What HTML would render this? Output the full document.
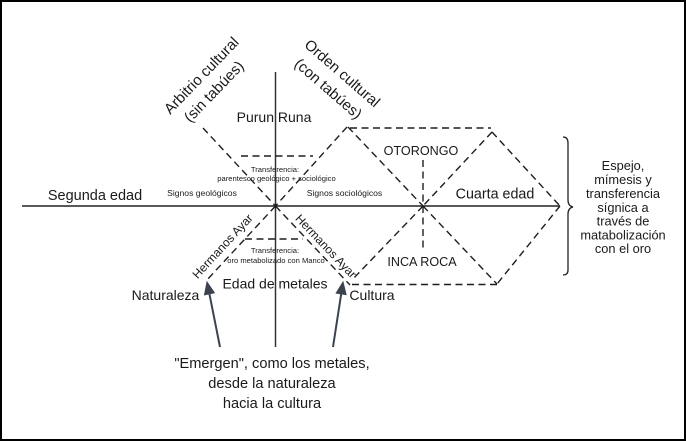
<!DOCTYPE html>
<html>
<head>
<meta charset="utf-8">
<style>
  html, body { margin: 0; padding: 0; background: #fff; }
  body { width: 686px; height: 441px; overflow: hidden; position: relative; }
  .frame { position: absolute; left: 0; top: 0; width: 682px; height: 437px; border: 2px solid #000; }
  svg { position: absolute; left: 0; top: 0; }
  text { font-family: "Liberation Sans", Arial, sans-serif; fill: #1a1a1a; }
</style>
</head>
<body>
<div class="frame"></div>
<svg width="686" height="441" viewBox="0 0 686 441" xmlns="http://www.w3.org/2000/svg">
  <!-- solid axes -->
  <line x1="22" y1="206" x2="560" y2="206" stroke="#222" stroke-width="1.5"/>
  <line x1="275.5" y1="72" x2="275.5" y2="347" stroke="#333" stroke-width="1.5"/>

  <!-- dashed lines -->
  <g stroke="#1e1e1e" stroke-width="1.4" stroke-dasharray="7 4.5" fill="none">
    <!-- left X -->
    <line x1="203" y1="128" x2="275.5" y2="206"/>
    <line x1="275.5" y1="206" x2="350" y2="285"/>
    <line x1="347" y1="127" x2="275.5" y2="206"/>
    <line x1="275.5" y1="206" x2="206" y2="281"/>
    <!-- small horizontals -->
    <line x1="241" y1="156" x2="313" y2="156"/>
    <line x1="245" y1="239" x2="303" y2="239"/>
    <!-- hexagon top/bottom -->
    <line x1="350" y1="128" x2="491" y2="128"/>
    <line x1="352" y1="284.5" x2="497" y2="284.5"/>
    <!-- right X -->
    <line x1="348" y1="127" x2="423" y2="206"/>
    <line x1="423" y1="206" x2="497" y2="284"/>
    <line x1="492" y1="132" x2="423" y2="206"/>
    <line x1="423" y1="206" x2="352" y2="280"/>
    <!-- right side -->
    <line x1="492" y1="132" x2="560" y2="206"/>
    <line x1="560" y1="206" x2="497" y2="284"/>
    <!-- vertical -->
    <line x1="423" y1="160" x2="423" y2="249"/>
  </g>

  <!-- brace -->
  <path d="M563,137 Q568,137 568,143 L568,200 Q568,206 573,207 Q568,208 568,214 L568,270 Q568,275 563,275" fill="none" stroke="#222" stroke-width="1.3"/>

  <!-- arrows -->
  <g stroke="#3c4350" stroke-width="2" fill="#3c4350">
    <line x1="220" y1="347" x2="209.4" y2="293.8"/>
    <polygon points="207,282 214.3,292.8 204.5,294.8" stroke-width="1"/>
    <line x1="333" y1="347" x2="341.2" y2="293.9"/>
    <polygon points="343,282 346.1,294.6 336.2,293.1" stroke-width="1"/>
  </g>

  <!-- labels -->
  <text x="95" y="200" font-size="14.5" text-anchor="middle">Segunda edad</text>
  <text x="202" y="196" font-size="8.6" text-anchor="middle">Signos geológicos</text>
  <text x="344.5" y="196" font-size="8.6" text-anchor="middle">Signos sociológicos</text>
  <text x="275" y="172" font-size="7.6" text-anchor="middle">Transferencia:</text>
  <text x="276.5" y="181" font-size="7.6" text-anchor="middle">parentesco geológico + sociológico</text>
  <text x="275" y="253" font-size="7.6" text-anchor="middle">Transferencia:</text>
  <text x="276" y="263" font-size="7.6" text-anchor="middle">oro metabolizado con Manco</text>
  <text x="274" y="122" font-size="14" text-anchor="middle">Purun Runa</text>
  <text x="421" y="155" font-size="12.6" text-anchor="middle">OTORONGO</text>
  <text x="422" y="266" font-size="12.6" text-anchor="middle">INCA ROCA</text>
  <text x="495" y="198.5" font-size="14.3" text-anchor="middle">Cuarta edad</text>
  <text x="275" y="288.5" font-size="14" text-anchor="middle">Edad de metales</text>
  <text x="165.5" y="300" font-size="14" text-anchor="middle">Naturaleza</text>
  <text x="372" y="300" font-size="14" text-anchor="middle">Cultura</text>

  <text x="272" y="368" font-size="14.6" text-anchor="middle">"Emergen", como los metales,</text>
  <text x="272" y="388" font-size="14.6" text-anchor="middle">desde la naturaleza</text>
  <text x="272" y="408" font-size="14.6" text-anchor="middle">hacia la cultura</text>

  <g font-size="12.8" text-anchor="middle">
    <text x="623" y="170">Espejo,</text>
    <text x="623" y="184">mímesis y</text>
    <text x="623" y="198">transferencia</text>
    <text x="623" y="212">sígnica a</text>
    <text x="623" y="225.5">través de</text>
    <text x="623" y="239.5">matabolización</text>
    <text x="623" y="253">con el oro</text>
  </g>

  <!-- rotated labels -->
  <text font-size="15" text-anchor="middle" transform="translate(205,79) rotate(-46)">Arbitrio cultural</text>
  <text font-size="15" text-anchor="middle" transform="translate(217.5,95) rotate(-46)">(sin tabúes)</text>
  <text font-size="15" text-anchor="middle" transform="translate(339,77) rotate(41)">Orden cultural</text>
  <text font-size="15" text-anchor="middle" transform="translate(325,92.5) rotate(41)">(con tabúes)</text>

  <text font-size="12" text-anchor="middle" transform="translate(225.5,249) rotate(-47.4)">Hermanos Ayar</text>
  <text font-size="12" text-anchor="middle" transform="translate(323,249) rotate(46.5)">Hermanos Ayar</text>
</svg>
</body>
</html>
